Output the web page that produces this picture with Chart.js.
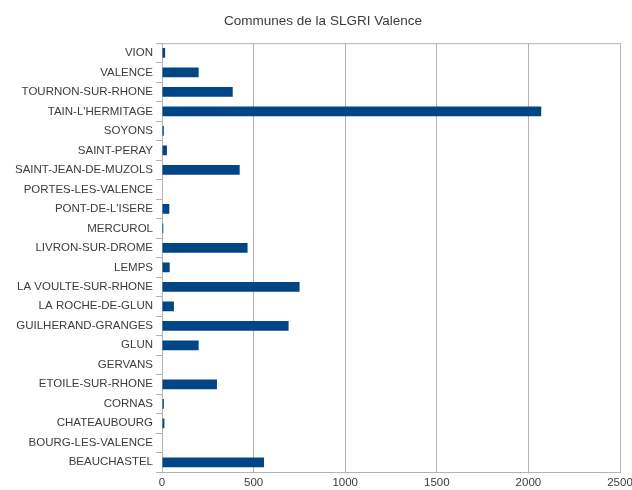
<!DOCTYPE html>
<html>
<head>
<meta charset="utf-8">
<script src="https://cdn.jsdelivr.net/npm/chart.js@4/dist/chart.umd.min.js"></script>
<style>
  html, body { margin: 0; padding: 0; background: #fff; }
  canvas { display: block; }
</style>
</head>
<body>
<canvas id="graphique" width="632" height="490"></canvas>
<script>
// Communes (du haut vers le bas) et valeurs
const communes = [
  'VION', 'VALENCE', 'TOURNON-SUR-RHONE', "TAIN-L'HERMITAGE", 'SOYONS',
  'SAINT-PERAY', 'SAINT-JEAN-DE-MUZOLS', 'PORTES-LES-VALENCE', "PONT-DE-L'ISERE",
  'MERCUROL', 'LIVRON-SUR-DROME', 'LEMPS', 'LA VOULTE-SUR-RHONE', 'LA ROCHE-DE-GLUN',
  'GUILHERAND-GRANGES', 'GLUN', 'GERVANS', 'ETOILE-SUR-RHONE', 'CORNAS',
  'CHATEAUBOURG', 'BOURG-LES-VALENCE', 'BEAUCHASTEL'
];
const valeurs = [
  17, 200, 386, 2070, 10,
  27, 424, 0, 40,
  7, 467, 42, 751, 65,
  691, 200, 0, 300, 10,
  13, 0, 557
];
const ticksX = [0, 500, 1000, 1500, 2000, 2500];

const texte = '#3c3c3c';
const grille = '#b3b3b3';
const police = "'Liberation Sans', Arial, sans-serif";

// Trait horizontal en haut de la zone de tracé
const cadreHaut = {
  id: 'cadreHaut',
  afterDraw(chart) {
    const { ctx, chartArea } = chart;
    ctx.save();
    ctx.strokeStyle = grille;
    ctx.lineWidth = 1;
    ctx.beginPath();
    ctx.moveTo(chartArea.left - 6, chartArea.top + 0.5);
    ctx.lineTo(chartArea.right, chartArea.top + 0.5);
    ctx.stroke();
    ctx.restore();
  }
};

new Chart(document.getElementById('graphique'), {
  type: 'bar',
  data: {
    labels: communes,
    datasets: [{
      data: valeurs,
      backgroundColor: '#004586',
      barPercentage: 0.5,
      categoryPercentage: 1
    }]
  },
  options: {
    indexAxis: 'y',
    responsive: false,
    animation: false,
    maintainAspectRatio: false,
    layout: { padding: { top: 0, right: 0, bottom: 0, left: 14 } },
    plugins: {
      legend: { display: false },
      tooltip: { enabled: false },
      title: {
        display: true,
        text: 'Communes de la SLGRI Valence',
        color: texte,
        font: { family: police, size: 13.5, weight: 'normal' },
        padding: { top: 13, bottom: 14 }
      }
    },
    scales: {
      x: {
        min: 0,
        max: 2500,
        afterBuildTicks: (axis) => { axis.ticks = ticksX.map(v => ({ value: v })); },
        grid: { color: grille, drawTicks: false },
        border: { color: grille },
        ticks: {
          color: texte, font: { family: police, size: 11.5 }, padding: 4, maxRotation: 0,
          callback: (v) => String(v)
        },
        afterFit: (axis) => { axis.height = 18; axis.paddingRight = 12; }
      },
      y: {
        grid: {
          drawOnChartArea: false,
          tickLength: 6,
          tickColor: grille,
          color: grille
        },
        border: { color: grille },
        ticks: { color: texte, font: { family: police, size: 11.5 }, padding: 3, autoSkip: false },
        afterFit: (axis) => { axis.width = 148; }
      }
    }
  },
  plugins: [cadreHaut]
});
</script>
</body>
</html>
